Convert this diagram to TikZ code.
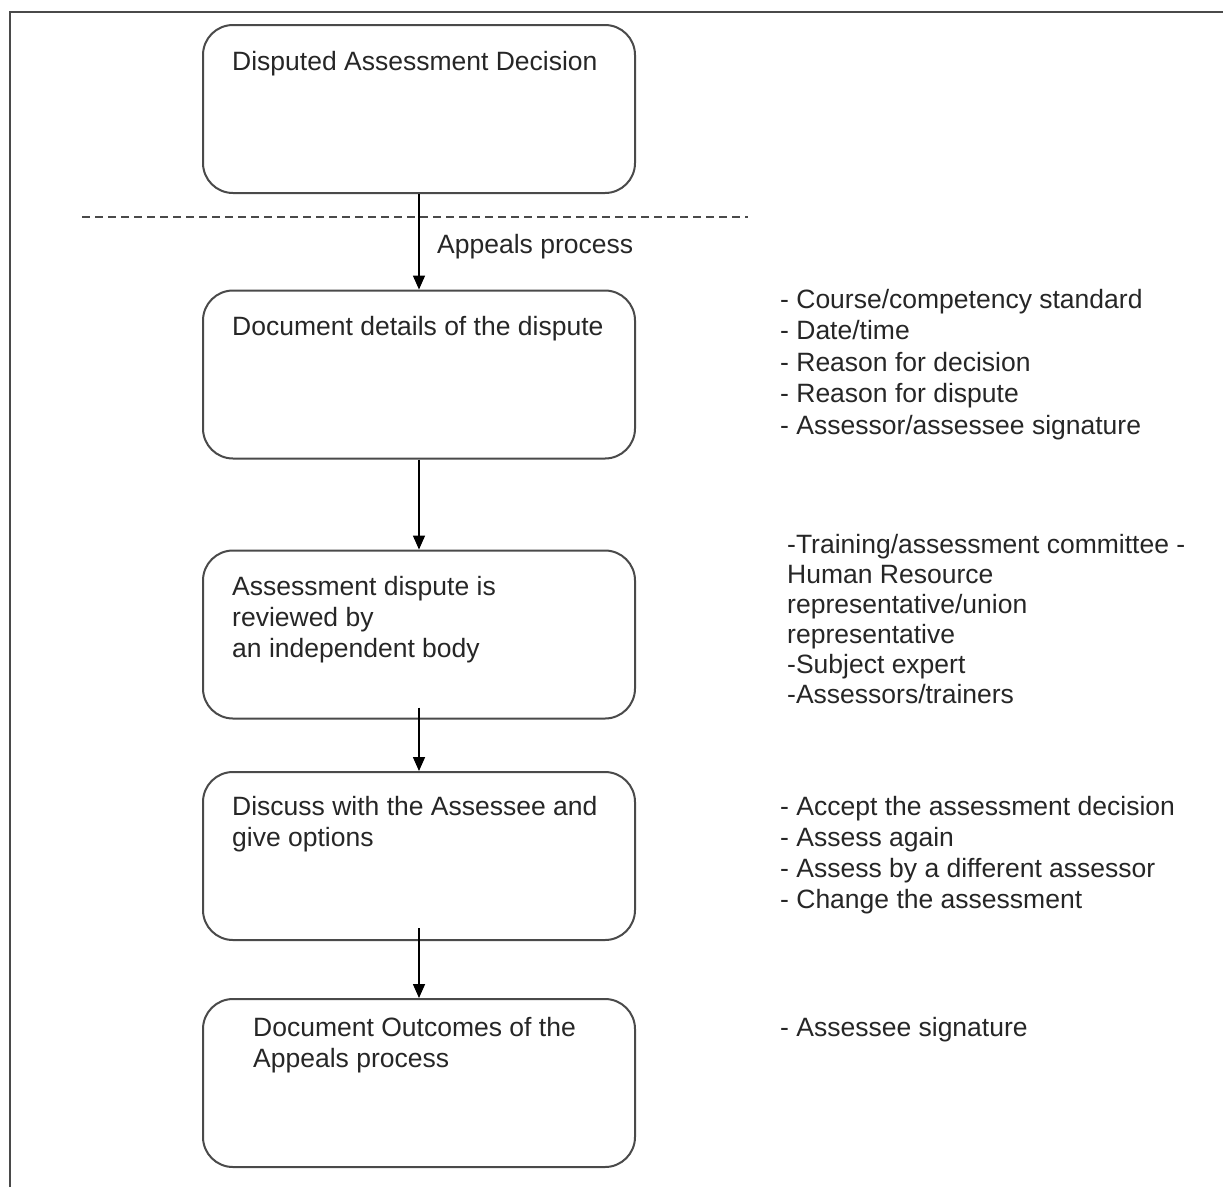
\documentclass[tikz,border=0pt]{standalone}
\usepackage{fontspec}
\setmainfont{Liberation Sans}
\usetikzlibrary{arrows.meta}
\definecolor{ink}{HTML}{262626}
\definecolor{boxline}{HTML}{4A4A4A}
\definecolor{framecol}{HTML}{4A4A4A}
\begin{document}
\begin{tikzpicture}[x=1pt,y=-1pt,
  stage/.style={draw=boxline,line width=2pt,rounded corners=30pt,
    minimum width=432pt,minimum height=168pt,inner sep=0pt},
  label/.style={text=ink,inner sep=0pt,anchor=base west,align=left,
    font=\fontsize{26.5}{31}\selectfont},
  flow/.style={line width=1.6pt,-{Triangle[length=14pt,width=12pt]}}]
\useasboundingbox (0,0) rectangle (1223,1187);
% page frame (open at the right and bottom)
\draw[framecol,line width=2pt] (10,1187) -- (10,12) -- (1223,12);
% process stages
\node[stage] (b1) at (419,109) {};
\node[stage] (b2) at (419,374.5) {};
\node[stage] (b3) at (419,634.5) {};
\node[stage] (b4) at (419,856) {};
\node[stage] (b5) at (419,1083) {};
% stage captions (anchored on the baseline of their last line)
\node[label] (t1) at (232,70) {Disputed Assessment Decision};
\node[label] (t2) at (232,335) {Document details of the dispute};
\node[label] (t3) at (232,657) {Assessment dispute is\\reviewed by\\an independent body};
\node[label] (t4) at (232,846) {Discuss with the Assessee and\\give options};
\node[label] (t5) at (253,1067) {Document Outcomes of the\\Appeals process};
% boundary of the appeals process
\coordinate (dl) at (82,217);
\coordinate (dr) at (748,217);
\draw[boxline,line width=1.6pt,dash pattern=on 8pt off 5pt] (dl) -- (dr);
\node[label] (ap) at (437,253) {Appeals process};
% notes beside each stage
\node[label,font=\fontsize{26.5}{31.5}\selectfont] (n2) at (780,434) {- Course/competency standard\\- Date/time\\- Reason for decision\\- Reason for dispute\\- Assessor/assessee signature};
\node[label,font=\fontsize{26.5}{30}\selectfont] (n3) at (787,703) {-Training/assessment committee -\\Human Resource\\representative/union\\representative\\-Subject expert\\-Assessors/trainers};
\node[label] (n4) at (780,908) {- Accept the assessment decision\\- Assess again\\- Assess by a different assessor\\- Change the assessment};
\node[label] (n5) at (780,1036) {- Assessee signature};
% connectors
\draw[flow] (b1.south) -- (b2.north);
\draw[flow] (b2.south) -- (b3.north);
\draw[flow,shorten <=-12pt] (b3.south) -- (b4.north);
\draw[flow,shorten <=-13pt] (b4.south) -- (b5.north);
\end{tikzpicture}
\end{document}
